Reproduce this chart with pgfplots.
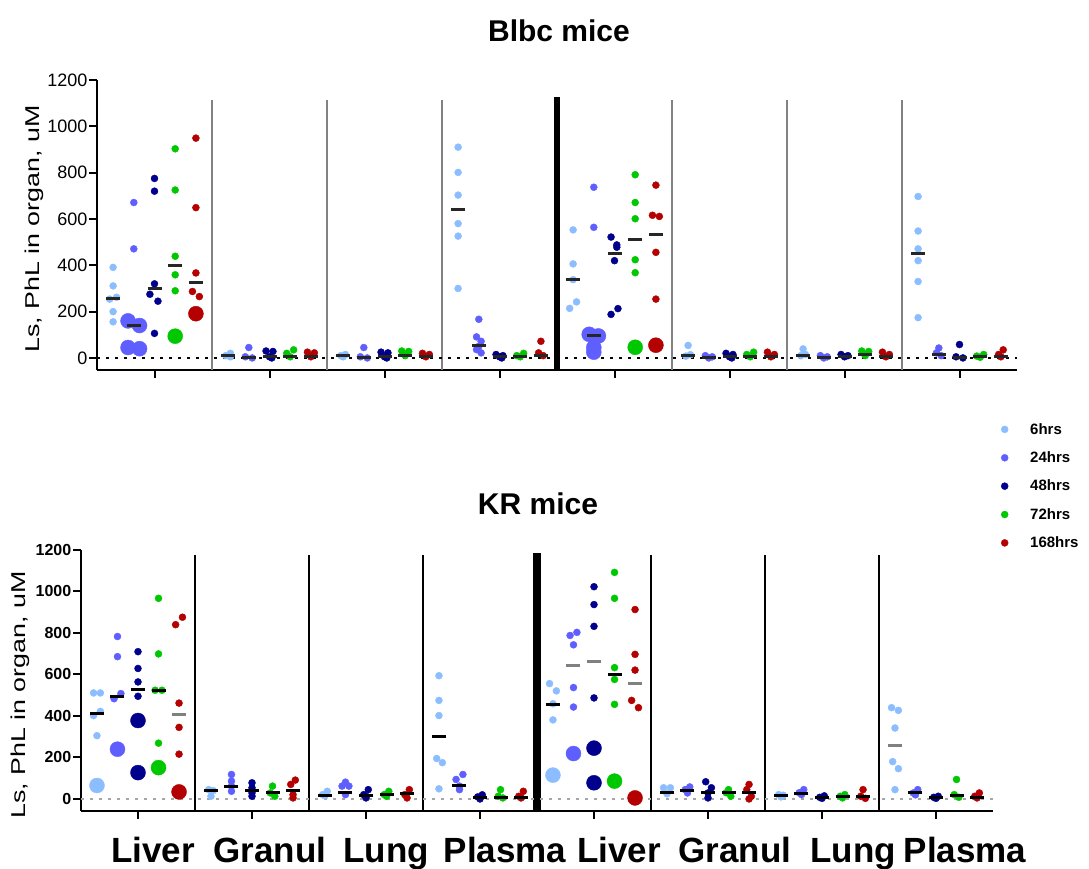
\documentclass[border=0pt]{standalone}
\usepackage{fontspec}
\setmainfont{Liberation Sans}
\usepackage{graphicx}
\usepackage{pgfplots}
\usepackage{pgfplotstable}
\pgfplotsset{compat=1.18}
\definecolor{c6}{RGB}{140,190,255}
\definecolor{c24}{RGB}{95,95,255}
\definecolor{c48}{RGB}{0,0,140}
\definecolor{c72}{RGB}{0,200,0}
\definecolor{c168}{RGB}{180,0,0}
\definecolor{sepgray}{RGB}{130,130,130}

% ---------------- Blbc (top) ----------------
\pgfplotstableread[row sep=\\]{
g y j\\
0 391 0\\
0 311 0\\
0 262 0.03\\
0 254 -0.03\\
0 200 0\\
0 156 0\\
1 20 0.02\\
1 10 -0.02\\
1 5 0.02\\
2 15 0.02\\
2 10 -0.02\\
2 5 0\\
3 910 0\\
3 801 0\\
3 703 0\\
3 580 0\\
3 526 0\\
3 300 0\\
4 553 0\\
4 406 0\\
4 338 0\\
4 242 0.03\\
4 214 -0.03\\
5 54 0\\
5 14 0.02\\
5 8 -0.02\\
6 39 0\\
6 15 0.02\\
6 10 -0.02\\
7 697 0\\
7 548 0\\
7 471 0\\
7 420 0\\
7 330 0\\
7 174 0\\
}\TAs
\pgfplotstableread[row sep=\\]{
g y j\\
0 671 0\\
0 471 0\\
1 45 0\\
1 5 -0.03\\
1 0 0.03\\
2 45 0\\
2 5 -0.03\\
2 0 0.03\\
3 167 0\\
3 91 -0.02\\
3 72 0.02\\
3 50 0\\
3 36 -0.02\\
3 22 0.02\\
4 737 0\\
4 564 0\\
5 10 -0.03\\
5 5 0.03\\
5 0 0\\
6 10 -0.03\\
6 5 0.03\\
6 0 0\\
7 43 0\\
7 22 -0.02\\
7 10 0.02\\
}\TBs
\pgfplotstableread[row sep=\\]{
g y j\\
0 775 0\\
0 720 0\\
0 320 0\\
0 275 -0.04\\
0 245 0.03\\
0 106 0\\
1 30 -0.03\\
1 28 0.03\\
1 5 0\\
1 0 0.02\\
2 25 -0.03\\
2 22 0.03\\
2 5 0\\
2 0 0.02\\
3 15 -0.03\\
3 10 0.03\\
3 5 0\\
3 0 0.02\\
4 522 -0.03\\
4 488 0.02\\
4 478 0.02\\
4 420 0\\
4 213 0.03\\
4 188 -0.03\\
5 20 -0.03\\
5 15 0.03\\
5 5 0\\
5 0 0.02\\
6 15 -0.03\\
6 10 0.03\\
6 5 0\\
7 58 0\\
7 5 -0.03\\
7 0 0.03\\
}\TCs
\pgfplotstableread[row sep=\\]{
g y j\\
0 903 0\\
0 725 0\\
0 439 0\\
0 359 0\\
0 290 0\\
1 35 0.03\\
1 20 -0.03\\
1 5 0\\
2 30 -0.03\\
2 28 0.03\\
2 10 0\\
3 20 0.03\\
3 10 -0.03\\
3 5 0\\
4 791 0\\
4 671 0\\
4 601 0\\
4 424 0\\
4 368 0\\
5 25 0.03\\
5 15 -0.03\\
5 5 0\\
6 30 -0.03\\
6 28 0.03\\
6 10 0\\
7 15 0.03\\
7 8 -0.03\\
7 3 0\\
}\TDs
\pgfplotstableread[row sep=\\]{
g y j\\
0 949 0\\
0 649 0\\
0 367 0\\
0 287 -0.03\\
0 265 0.03\\
1 25 -0.03\\
1 22 0.03\\
1 5 0\\
2 20 -0.03\\
2 15 0.03\\
2 5 0\\
3 72 0\\
3 22 -0.02\\
3 10 0.02\\
4 746 0\\
4 616 -0.03\\
4 611 0.03\\
4 456 0\\
4 254 0\\
5 25 -0.03\\
5 15 0.03\\
5 5 0\\
6 25 -0.03\\
6 15 0.03\\
6 5 0\\
7 35 0.02\\
7 15 -0.02\\
7 5 0\\
}\TEs
\pgfplotstableread[row sep=\\]{
g o y\\
0 -0.23 160\\
0 -0.13 140\\
0 -0.23 45\\
0 -0.13 40\\
4 -0.22 102\\
4 -0.14 95\\
4 -0.18 45\\
4 -0.18 25\\
}\TBbig
\pgfplotstableread[row sep=\\]{
g o y\\
0 0.18 94\\
4 0.18 46\\
}\TDbig
\pgfplotstableread[row sep=\\]{
g o y\\
0 0.36 191\\
4 0.36 55\\
}\TEbig
\pgfplotstableread[row sep=\\]{
g o y\\
0 -0.36 258\\
0 -0.18 142\\
0 0 300\\
0 0.18 401\\
0 0.36 326\\
1 -0.36 10\\
1 -0.18 3\\
1 0 5\\
1 0.18 8\\
1 0.36 8\\
2 -0.36 10\\
2 -0.18 3\\
2 0 5\\
2 0.18 12\\
2 0.36 8\\
3 -0.36 642\\
3 -0.18 55\\
3 0 5\\
3 0.18 5\\
3 0.36 10\\
4 -0.36 338\\
4 -0.18 97\\
4 0 453\\
4 0.18 511\\
4 0.36 535\\
5 -0.36 10\\
5 -0.18 3\\
5 0 5\\
5 0.18 8\\
5 0.36 8\\
6 -0.36 12\\
6 -0.18 3\\
6 0 5\\
6 0.18 15\\
6 0.36 8\\
7 -0.36 449\\
7 -0.18 15\\
7 0 3\\
7 0.18 5\\
7 0.36 8\\
}\TMed

% ---------------- KR (bottom) ----------------
\pgfplotstableread[row sep=\\]{
g y j\\
0 511 -0.03\\
0 511 0.03\\
0 422 0.03\\
0 402 -0.03\\
0 305 0\\
1 45 -0.02\\
1 40 0.02\\
1 13 0\\
2 37 0.02\\
2 21 -0.02\\
2 15 0\\
3 594 0\\
3 475 0\\
3 402 0\\
3 195 -0.02\\
3 175 0.03\\
3 49 0\\
4 556 -0.03\\
4 521 0.03\\
4 459 0\\
4 381 0\\
5 54 -0.03\\
5 54 0.03\\
5 25 0\\
6 21 -0.02\\
6 18 0.02\\
6 10 0\\
7 440 -0.03\\
7 427 0.03\\
7 342 0\\
7 180 -0.02\\
7 146 0.03\\
7 45 0\\
}\KAs
\pgfplotstableread[row sep=\\]{
g y j\\
0 783 0\\
0 686 0\\
0 508 0.03\\
0 483 -0.03\\
1 118 0\\
1 86 0\\
1 62 0\\
1 37 0\\
2 81 0\\
2 62 -0.03\\
2 62 0.03\\
2 21 0\\
3 118 0.03\\
3 94 -0.03\\
3 62 0\\
3 45 0\\
4 803 0.03\\
4 788 -0.03\\
4 743 0\\
4 537 0\\
4 443 0\\
5 58 0.02\\
5 45 -0.02\\
5 29 0\\
6 45 0.02\\
6 30 -0.02\\
6 21 0\\
7 45 0.02\\
7 29 -0.02\\
7 20 0\\
}\KBs
\pgfplotstableread[row sep=\\]{
g y j\\
0 710 0\\
0 629 0\\
0 564 0\\
0 495 0\\
1 78 0\\
1 54 0\\
1 29 0\\
1 13 0\\
2 45 0.02\\
2 21 -0.02\\
2 13 0\\
2 5 0\\
3 20 0.02\\
3 10 -0.02\\
3 5 0\\
3 0 0\\
4 1023 0\\
4 937 0\\
4 832 0\\
4 487 0\\
5 83 -0.02\\
5 54 0.03\\
5 29 0\\
5 5 0\\
6 15 0.02\\
6 8 -0.02\\
6 3 0\\
7 13 0.02\\
7 8 -0.02\\
7 3 0\\
}\KCs
\pgfplotstableread[row sep=\\]{
g y j\\
0 967 0\\
0 699 0\\
0 524 -0.03\\
0 524 0.03\\
0 269 0\\
1 62 0\\
1 29 -0.02\\
1 13 0.02\\
2 37 0.02\\
2 21 -0.02\\
2 13 0\\
3 45 0\\
3 13 -0.02\\
3 5 0.02\\
4 1092 0\\
4 967 0\\
4 633 0\\
4 576 0\\
4 456 0\\
5 45 0\\
5 30 -0.02\\
5 13 0.02\\
6 21 0.02\\
6 13 -0.02\\
6 5 0\\
7 94 0\\
7 21 -0.02\\
7 8 0.02\\
}\KDs
\pgfplotstableread[row sep=\\]{
g y j\\
0 876 0.03\\
0 840 -0.03\\
0 462 0\\
0 345 0\\
0 216 0\\
1 91 0.02\\
1 70 -0.02\\
1 21 0\\
1 5 0\\
2 45 0.02\\
2 21 -0.02\\
2 5 0\\
3 37 0.02\\
3 13 -0.02\\
3 5 0\\
4 913 0\\
4 697 0\\
4 621 0\\
4 475 -0.03\\
4 440 0.03\\
5 70 0\\
5 45 -0.02\\
5 13 0.02\\
5 0 0\\
6 45 0\\
6 13 -0.02\\
6 3 0.02\\
7 29 0.02\\
7 13 -0.02\\
7 5 0\\
}\KEs
\pgfplotstableread[row sep=\\]{
g o y c\\
0 -0.36 65 1\\
4 -0.36 115 1\\
0 -0.18 240 2\\
4 -0.18 219 2\\
0 0 378 3\\
0 0 127 3\\
4 0 245 3\\
4 0 78 3\\
0 0.18 151 4\\
4 0.18 86 4\\
0 0.36 34 5\\
4 0.36 5 5\\
}\Kbig
\pgfplotstableread[row sep=\\]{
g o y\\
0 -0.36 414\\
0 -0.18 495\\
0 0 529\\
0 0.18 524\\
1 -0.36 42\\
1 -0.18 58\\
1 0 42\\
1 0.18 32\\
1 0.36 40\\
2 -0.36 18\\
2 -0.18 29\\
2 0 18\\
2 0.18 21\\
2 0.36 26\\
3 -0.36 302\\
3 -0.18 65\\
3 0 5\\
3 0.18 5\\
3 0.36 5\\
4 -0.36 454\\
4 0.18 602\\
5 -0.36 30\\
5 -0.18 40\\
5 0 29\\
5 0.18 29\\
5 0.36 29\\
6 -0.36 18\\
6 -0.18 25\\
6 0 5\\
6 0.18 13\\
6 0.36 13\\
7 -0.18 29\\
7 0 5\\
7 0.18 18\\
7 0.36 5\\
}\KMed
\pgfplotstableread[row sep=\\]{
g o y\\
0 0.36 405\\
4 -0.18 641\\
4 0 662\\
4 0.36 555\\
7 -0.36 260\\
}\KMedGray

\pgfplotsset{
  dots/.style={only marks, mark=*, mark size=3.5pt, mark options={draw=none}},
  bigdots/.style={only marks, mark=*, mark size=7.5pt, mark options={draw=none}, forget plot},
  meds/.style={only marks, mark=-, mark size=7pt, mark options={line width=3pt}, forget plot},
  sep/.style={line width=2.5pt, forget plot},
  panel/.style={
    scale only axis, clip=false,
    xmin=-0.5, xmax=7.5, ymax=1200,
    axis x line*=bottom, axis y line*=left,
    xtick={0,...,7}, xticklabels={},
    ytick={0,200,...,1200},
    tick align=outside, major tick length=8pt,
    tick style={black, line width=2pt},
    axis line style={black, line width=2.5pt},
    /pgf/number format/assume math mode=true,
    /pgf/number format/1000 sep={},
    yticklabel style={inner sep=1.5pt},
  },
}

\begin{document}
\begin{tikzpicture}
\useasboundingbox (0pt,0pt) rectangle (1089pt,869pt);

% ===== top panel =====
\begin{axis}[panel,
  at={(97pt,499pt)}, anchor=south west,
  width=920pt, height=290pt, ymin=-52,
  yticklabel style={font=\fontsize{18}{18}\selectfont},
  legend style={draw=none, fill=none, at={(0.9826,-0.176)}, anchor=north west,
    inner sep=0pt, row sep=12pt, font=\bfseries\fontsize{15}{15}\selectfont,
    /tikz/every odd column/.append style={column sep=20pt}},
  legend cell align=left,
  legend image code/.code={\draw[#1] plot coordinates {(0pt,0pt)};},
]
\addplot[sep, sepgray] coordinates {(0.5,-52) (0.5,1113)};
\addplot[sep, sepgray] coordinates {(1.5,-52) (1.5,1113)};
\addplot[sep, sepgray] coordinates {(2.5,-52) (2.5,1113)};
\addplot[sep, sepgray] coordinates {(4.5,-52) (4.5,1113)};
\addplot[sep, sepgray] coordinates {(5.5,-52) (5.5,1113)};
\addplot[sep, sepgray] coordinates {(6.5,-52) (6.5,1113)};
\addplot[black, line width=6pt, forget plot] coordinates {(3.5,-52) (3.5,1126)};
\addplot[black, line width=2pt, dash pattern=on 2.5pt off 6.5pt, forget plot] coordinates {(-0.5,0) (7.5,0)};

\addplot[dots, c6]   table[x expr=\thisrow{g}-0.36+\thisrow{j}, y=y] {\TAs};
\addplot[dots, c24]  table[x expr=\thisrow{g}-0.18+\thisrow{j}, y=y] {\TBs};
\addplot[dots, c48]  table[x expr=\thisrow{g}+\thisrow{j}, y=y] {\TCs};
\addplot[dots, c72]  table[x expr=\thisrow{g}+0.18+\thisrow{j}, y=y] {\TDs};
\addplot[dots, c168] table[x expr=\thisrow{g}+0.36+\thisrow{j}, y=y] {\TEs};
\legend{6hrs,24hrs,48hrs,72hrs,168hrs}
\addplot[bigdots, c24]  table[x expr=\thisrow{g}+\thisrow{o}, y=y] {\TBbig};
\addplot[bigdots, c72]  table[x expr=\thisrow{g}+\thisrow{o}, y=y] {\TDbig};
\addplot[bigdots, c168] table[x expr=\thisrow{g}+\thisrow{o}, y=y] {\TEbig};
\addplot[meds, black!85] table[x expr=\thisrow{g}+\thisrow{o}, y=y] {\TMed};
\end{axis}

% ===== bottom panel =====
\begin{axis}[panel,
  at={(81pt,58pt)}, anchor=south west,
  width=912pt, height=261pt, ymin=-58,
  yticklabel style={font=\bfseries\fontsize{16}{16}\selectfont},
]
\addplot[sep, black] coordinates {(0.5,-58) (0.5,1176)};
\addplot[sep, black] coordinates {(1.5,-58) (1.5,1176)};
\addplot[sep, black] coordinates {(2.5,-58) (2.5,1176)};
\addplot[sep, black] coordinates {(4.5,-58) (4.5,1176)};
\addplot[sep, black] coordinates {(5.5,-58) (5.5,1176)};
\addplot[sep, black] coordinates {(6.5,-58) (6.5,1176)};
\addplot[black, line width=8pt, forget plot] coordinates {(3.5,-58) (3.5,1185)};
\addplot[gray!70, line width=2pt, dash pattern=on 2.5pt off 6.5pt, forget plot] coordinates {(-0.5,0) (7.5,0)};

\addplot[dots, c6, forget plot]   table[x expr=\thisrow{g}-0.36+\thisrow{j}, y=y] {\KAs};
\addplot[dots, c24, forget plot]  table[x expr=\thisrow{g}-0.18+\thisrow{j}, y=y] {\KBs};
\addplot[dots, c48, forget plot]  table[x expr=\thisrow{g}+\thisrow{j}, y=y] {\KCs};
\addplot[dots, c72, forget plot]  table[x expr=\thisrow{g}+0.18+\thisrow{j}, y=y] {\KDs};
\addplot[dots, c168, forget plot] table[x expr=\thisrow{g}+0.36+\thisrow{j}, y=y] {\KEs};
\addplot[bigdots, scatter, scatter src=explicit symbolic,
  scatter/classes={1={c6},2={c24},3={c48},4={c72},5={c168}}]
  table[x expr=\thisrow{g}+\thisrow{o}, y=y, meta=c] {\Kbig};
\addplot[meds, black] table[x expr=\thisrow{g}+\thisrow{o}, y=y] {\KMed};
\addplot[meds, gray] table[x expr=\thisrow{g}+\thisrow{o}, y=y] {\KMedGray};
\end{axis}

% ===== titles and labels =====
\node[anchor=base, font=\bfseries\fontsize{30}{30}\selectfont] at (559pt,827pt) {Blbc mice};
\node[anchor=base, font=\bfseries\fontsize{30}{30}\selectfont] at (538pt,354pt) {KR mice};
\node[rotate=90] at (34pt,640pt) {\scalebox{1.34}[1]{\fontsize{20}{20}\selectfont Ls, PhL in organ, uM}};
\node[rotate=90] at (20pt,174pt) {\scalebox{1.34}[1]{\fontsize{20}{20}\selectfont Ls, PhL in organ, uM}};
\foreach \lab/\xx in {Liver/153, Granul/270, Lung/386, Plasma/505, Liver/619, Granul/735, Lung/853, Plasma/965}
  \node[anchor=base, font=\bfseries\fontsize{35}{35}\selectfont, inner sep=0pt] at (\xx pt,6pt) {\lab};
\end{tikzpicture}
\end{document}
